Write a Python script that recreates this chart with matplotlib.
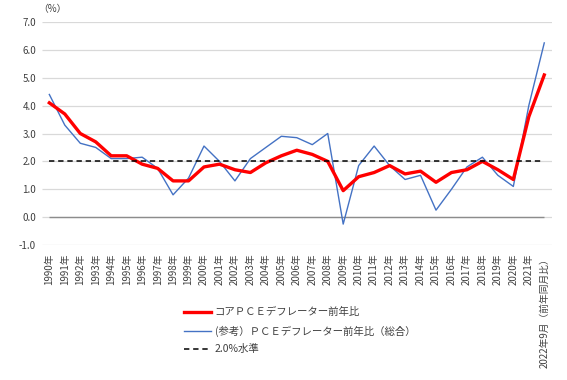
import matplotlib.pyplot as plt

plt.rcParams['font.family'] = ['Noto Sans CJK JP', 'DejaVu Sans']

years = [f"{y}年" for y in range(1990, 2022)] + ["2022年9月（前年同月比）"]
core_pce = [4.1, 3.7, 3.0, 2.7, 2.2, 2.2, 1.9, 1.75, 1.3, 1.3, 1.8, 1.9, 1.7, 1.6, 1.95,
            2.2, 2.4, 2.25, 2.0, 0.95, 1.45, 1.6, 1.85, 1.55, 1.65, 1.25, 1.6, 1.7, 2.0,
            1.7, 1.35, 3.6, 5.1]
pce = [4.4, 3.3, 2.65, 2.5, 2.1, 2.1, 2.15, 1.75, 0.8, 1.4, 2.55, 2.0, 1.3, 2.1, 2.5,
       2.9, 2.85, 2.6, 3.0, -0.25, 1.85, 2.55, 1.85, 1.35, 1.5, 0.25, 1.0, 1.8, 2.15,
       1.5, 1.1, 4.0, 6.25]
target = 2.0

fig = plt.figure(figsize=(5.67, 3.8), dpi=100)
ax = fig.add_axes([41.6 / 567, 1 - 245 / 380, (552 - 41.6) / 567, (245 - 22) / 380])

x = list(range(len(years)))
for v in range(-1, 8):
    ax.hlines(v, -0.5, len(years) - 0.5, color='#D9D9D9', lw=0.9, zorder=0)
ax.hlines(0, 0, len(years) - 1, color='#8C8C8C', lw=1.0, zorder=1)

ax.plot(x, core_pce, color='#FF0000', lw=2.4, label='コアＰＣＥデフレーター前年比', zorder=3)
ax.plot(x, pce, color='#4472C4', lw=1.0, label='(参考）ＰＣＥデフレーター前年比（総合）', zorder=2)
ax.hlines(target, 0, len(years) - 1, color='black', lw=1.1, linestyles=(0, (3.5, 2.5)),
          label='2.0%水準', zorder=4)

ax.set_xlim(-0.5, len(years) - 0.5)
ax.set_ylim(-1, 7)
ax.set_yticks(range(-1, 8))
ax.set_yticklabels([f"{v:.1f}" for v in range(-1, 8)], fontsize=7, color='#404040')
ax.set_xticks(x)
ax.set_xticklabels(years, rotation=90, fontsize=7, color='#404040', va='top')
ax.tick_params(axis='x', length=0, pad=6)
ax.tick_params(axis='y', length=0, pad=4)
for s in ax.spines.values():
    s.set_visible(False)

fig.text(38 / 567, 1 - 9 / 380, '（%）', fontsize=7, color='#404040', va='center')

leg = ax.legend(loc='upper left', bbox_to_anchor=(175 / 567, 1 - 298 / 380),
                bbox_transform=fig.transFigure, frameon=False, fontsize=7.5,
                handlelength=2.6, handletextpad=0.3, labelspacing=0.75)
for t in leg.get_texts():
    t.set_color('#404040')

fig.savefig('out.png', dpi=100)
